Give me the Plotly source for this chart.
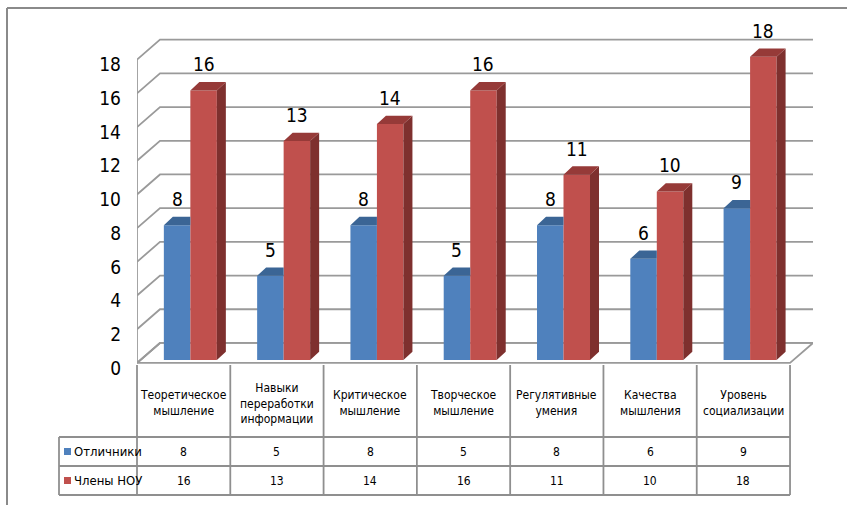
import plotly.graph_objects as go

# ---------------- data ----------------
categories = ["Теоретическое<br>мышление", "Навыки<br>переработки<br>информации",
              "Критическое<br>мышление", "Творческое<br>мышление",
              "Регулятивные<br>умения", "Качества<br>мышления", "Уровень<br>социализации"]
series_names = ["Отличники", "Члены НОУ"]
otlichniki = [8, 5, 8, 5, 8, 6, 9]
chleny_nou = [16, 13, 14, 16, 11, 10, 18]
y_ticks = [0, 2, 4, 6, 8, 10, 12, 14, 16, 18]

# ---------------- style / layout constants ----------------
W, H = 847, 505
ML, MR, MT, MB = 137, 34, 26, 137
PW, PH = W - ML - MR, H - MT - MB
UX = 93.29                       # px per category
XMIN = -0.5
XMAX = XMIN + PW / UX
YMIN, YMAX = -0.3, 20
UY = PH / (YMAX - YMIN)          # px per value unit

DXW, DYW = 23 / UX, 20 / UY      # wall depth
DXB, DYB = 9 / UX, 8.3 / UY      # bar depth
BAR_W = 26.5 / UX
SHIFT = 6.7 / UX
BASE = 3 / UY

BLUE, BLUE_TOP = "#4F81BD", "#3B6595"
RED, RED_TOP, RED_SIDE = "#C0504D", "#963A38", "#7E302E"
GRID = "#9a9a9a"
FONT = "DejaVu Sans Condensed, Liberation Sans Narrow, Liberation Sans, Arial"

def px2paper_x(px):
    return (px - ML) / PW

def py2paper_y(py):
    return (H - MB - py) / PH

def data2paper_x(x):
    return (x - XMIN) / (XMAX - XMIN)

n = len(categories)
idx = list(range(n))
x_blue = [i + SHIFT - BAR_W / 2 for i in idx]
x_red = [i + SHIFT + BAR_W / 2 for i in idx]

fig = go.Figure()

fig.add_trace(go.Bar(x=x_blue, y=otlichniki, base=BASE, width=BAR_W, name=series_names[0],
                     marker=dict(color=BLUE, line=dict(width=0)), hoverinfo="skip"))
fig.add_trace(go.Bar(x=x_red, y=chleny_nou, base=BASE, width=BAR_W, name=series_names[1],
                     marker=dict(color=RED, line=dict(width=0)), hoverinfo="skip"))

# 3D faces
def poly_trace(polys, color):
    xs, ys = [], []
    for p in polys:
        for (a, b) in p + [p[0]]:
            xs.append(a); ys.append(b)
        xs.append(None); ys.append(None)
    return go.Scatter(x=xs, y=ys, mode="lines", fill="toself", fillcolor=color,
                      line=dict(width=0, color=color), hoverinfo="skip", showlegend=False)

blue_tops = []
for xc, v in zip(x_blue, otlichniki):
    x0, x1, t = xc - BAR_W / 2, xc + BAR_W / 2, BASE + v
    blue_tops.append([(x0, t), (x1, t), (x1, t + DYB), (x0 + DXB, t + DYB)])
red_tops, red_sides = [], []
for xc, v in zip(x_red, chleny_nou):
    x0, x1, t = xc - BAR_W / 2, xc + BAR_W / 2, BASE + v
    red_tops.append([(x0, t), (x1, t), (x1 + DXB, t + DYB), (x0 + DXB, t + DYB)])
    red_sides.append([(x1, BASE), (x1, t), (x1 + DXB, t + DYB), (x1 + DXB, BASE + DYB)])
fig.add_trace(poly_trace(blue_tops, BLUE_TOP))
fig.add_trace(poly_trace(red_sides, RED_SIDE))
fig.add_trace(poly_trace(red_tops, RED_TOP))

shapes = []
# floor
shapes.append(dict(type="path", xref="x", yref="y", layer="below",
                   path=f"M {XMIN},0 L {n - 0.5},0 L {n - 0.5 + DXW},{DYW} L {XMIN + DXW},{DYW} Z",
                   fillcolor="white", line=dict(color=GRID, width=1.8)))
# back wall gridlines with diagonals
for v in y_ticks:
    shapes.append(dict(type="path", xref="x", yref="y", layer="below",
                       path=f"M {XMIN},{v} L {XMIN + DXW},{v + DYW} L {XMAX},{v + DYW}",
                       line=dict(color=GRID, width=1.8)))
# left wall front edge
shapes.append(dict(type="line", xref="x", yref="y", layer="below",
                   x0=XMIN, x1=XMIN, y0=0, y1=y_ticks[-1], line=dict(color=GRID, width=1.8)))

# ---------- data table ----------
TBL_LEFT = 59
ROW_TOP, ROW1, ROW2, ROW_BOT = 365, 437, 466, 495
tcol = "#8f8f8f"
def pline(x0, y0, x1, y1):
    shapes.append(dict(type="line", xref="paper", yref="paper",
                       x0=x0, y0=y0, x1=x1, y1=y1, line=dict(color=tcol, width=1.8)))
xr = data2paper_x(n - 0.5)
for yy in (ROW1, ROW2, ROW_BOT):
    pline(px2paper_x(TBL_LEFT), py2paper_y(yy), xr, py2paper_y(yy))
pline(px2paper_x(TBL_LEFT), py2paper_y(ROW1), px2paper_x(TBL_LEFT), py2paper_y(ROW_BOT))
for k in range(n + 1):
    xp = data2paper_x(k - 0.5)
    pline(xp, py2paper_y(ROW_TOP), xp, py2paper_y(ROW_BOT))

# chart outer border
shapes.append(dict(type="line", xref="paper", yref="paper", x0=px2paper_x(7), x1=px2paper_x(W + 5),
                   y0=py2paper_y(8), y1=py2paper_y(8), line=dict(color="#8a8a8a", width=2)))
shapes.append(dict(type="line", xref="paper", yref="paper", x0=px2paper_x(7), x1=px2paper_x(7),
                   y0=py2paper_y(8), y1=py2paper_y(H + 5), line=dict(color="#8a8a8a", width=2)))

annotations = []
# data labels
for xc, v in zip(x_blue, otlichniki):
    annotations.append(dict(x=xc, y=BASE + v, xref="x", yref="y", text=str(v), showarrow=False,
                            yanchor="bottom", yshift=13, font=dict(family=FONT, size=19, color="black")))
for xc, v in zip(x_red, chleny_nou):
    annotations.append(dict(x=xc, y=BASE + v, xref="x", yref="y", text=str(v), showarrow=False,
                            yanchor="bottom", yshift=13, font=dict(family=FONT, size=19, color="black")))
# table texts
for i, c in enumerate(categories):
    annotations.append(dict(x=i, y=py2paper_y(403), xref="x", yref="paper", text=c, showarrow=False,
                            align="center", yanchor="middle",
                            font=dict(family=FONT, size=12, color="black")))
    annotations.append(dict(x=i, y=py2paper_y((ROW1 + ROW2) / 2), xref="x", yref="paper",
                            text=str(otlichniki[i]), showarrow=False, yanchor="middle",
                            font=dict(family=FONT, size=12, color="black")))
    annotations.append(dict(x=i, y=py2paper_y((ROW2 + ROW_BOT) / 2), xref="x", yref="paper",
                            text=str(chleny_nou[i]), showarrow=False, yanchor="middle",
                            font=dict(family=FONT, size=12, color="black")))
for name, color, (ya, yb) in zip(series_names, [BLUE, RED], [(ROW1, ROW2), (ROW2, ROW_BOT)]):
    yc = (ya + yb) / 2
    shapes.append(dict(type="rect", xref="paper", yref="paper",
                       x0=px2paper_x(64), x1=px2paper_x(71), y0=py2paper_y(yc + 3.5), y1=py2paper_y(yc - 3.5),
                       fillcolor=color, line=dict(width=0)))
    annotations.append(dict(x=px2paper_x(72), y=py2paper_y(yc), xref="paper", yref="paper", text=name,
                            showarrow=False, xanchor="left", yanchor="middle",
                            font=dict(family=FONT, size=13, color="black")))

fig.update_layout(
    width=W, height=H,
    margin=dict(l=ML, r=MR, t=MT, b=MB, pad=0),
    paper_bgcolor="white", plot_bgcolor="white",
    barmode="overlay", showlegend=False,
    xaxis=dict(range=[XMIN, XMAX], showgrid=False, zeroline=False, showticklabels=False,
               showline=False, ticks="", fixedrange=True),
    yaxis=dict(range=[YMIN, YMAX], tickvals=y_ticks, showgrid=False, zeroline=False,
               showline=False, ticks="", ticklabelstandoff=15, ticklabelshift=5,
               tickfont=dict(family=FONT, size=19, color="black"), fixedrange=True),
    shapes=shapes, annotations=annotations,
)

fig.write_html("out.html")
